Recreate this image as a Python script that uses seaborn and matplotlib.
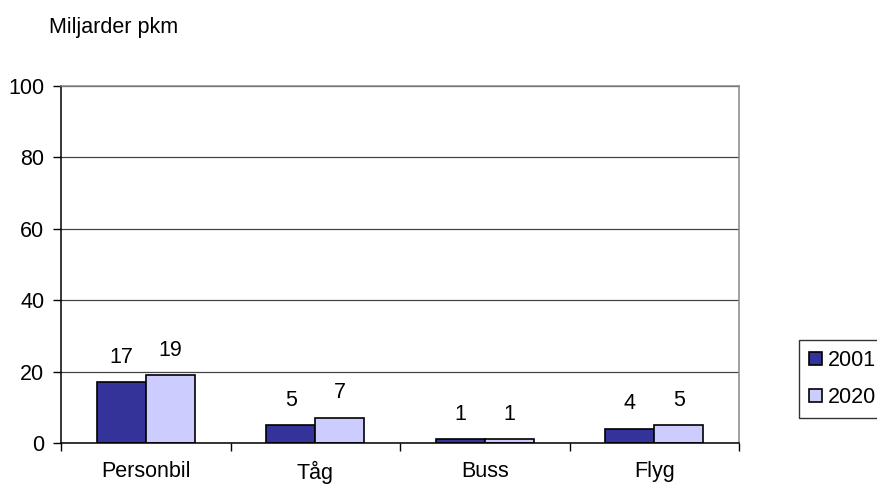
import matplotlib
matplotlib.use("Agg")
import matplotlib.pyplot as plt
import seaborn as sns
import pandas as pd

categories = ["Personbil", "Tåg", "Buss", "Flyg"]
years = ["2001", "2020"]
values_2001 = [17, 5, 1, 4]
values_2020 = [19, 7, 1, 5]
y_ticks = [0, 20, 40, 60, 80, 100]

df = pd.DataFrame({
    "kategori": categories * 2,
    "år": [years[0]] * len(categories) + [years[1]] * len(categories),
    "pkm": values_2001 + values_2020,
})

sns.set_theme(style="white")
plt.rcParams["font.family"] = ["Liberation Sans", "DejaVu Sans"]
plt.rcParams["text.color"] = "black"
plt.rcParams["xtick.color"] = "black"
plt.rcParams["ytick.color"] = "black"
plt.rcParams["xtick.labelcolor"] = "black"
plt.rcParams["ytick.labelcolor"] = "black"

FS = 15.5

fig = plt.figure(figsize=(8.77, 4.84), dpi=100)
ax = fig.add_axes([61 / 877, 1 - 443 / 484, (739 - 61) / 877, (443 - 86) / 484])

palette = {"2001": "#333399", "2020": "#CCCCFF"}
sns.barplot(data=df, x="kategori", y="pkm", hue="år", order=categories,
            hue_order=years, palette=palette, width=0.58, gap=0,
            edgecolor="black", linewidth=1.2, saturation=1, ax=ax, legend=True)

for cont in ax.containers:
    ax.bar_label(cont, labels=[f"{v:.0f}" for v in cont.datavalues],
                 padding=10.5, fontsize=FS, color="black")

ax.set_ylim(0, 100)
ax.set_xlim(-0.5, len(categories) - 0.5)
ax.set_yticks(y_ticks)
ax.set_yticklabels([str(t) for t in y_ticks], fontsize=FS)
ax.yaxis.grid(True, color="#444444", linewidth=0.9)
ax.set_axisbelow(True)
ax.set_xlabel("")
ax.set_ylabel("")

# category labels centred, tick marks at the group boundaries
ax.set_xticks(range(len(categories)))
ax.set_xticklabels(categories, fontsize=FS)
ax.tick_params(axis="x", which="major", length=0, pad=13)
ax.set_xticks([i - 0.5 for i in range(len(categories) + 1)], minor=True)
ax.tick_params(axis="x", which="minor", bottom=True, length=6, width=1,
               color="black", direction="out")
ax.tick_params(axis="y", length=6, width=1, color="black", direction="out",
               pad=6, left=True)

for side in ("left", "bottom"):
    ax.spines[side].set_color("black")
    ax.spines[side].set_linewidth(1.1)
for side in ("top", "right"):
    ax.spines[side].set_color("#888888")
    ax.spines[side].set_linewidth(1.1)

fig.text(49 / 877, 1 - 27 / 484, "Miljarder pkm", fontsize=FS, va="center", ha="left")

leg = ax.legend(loc="center left", bbox_to_anchor=(799 / 877, 1 - 379 / 484),
                bbox_transform=fig.transFigure, frameon=True, fontsize=FS,
                handlelength=0.6, handleheight=0.6, handletextpad=0.3,
                borderpad=0.45, labelspacing=0.75, fancybox=False, borderaxespad=0)
leg.get_frame().set_edgecolor("black")
leg.get_frame().set_linewidth(1.0)
for h in leg.legend_handles:
    h.set_edgecolor("black")
    h.set_linewidth(1.2)

fig.savefig("out.png", dpi=100)
